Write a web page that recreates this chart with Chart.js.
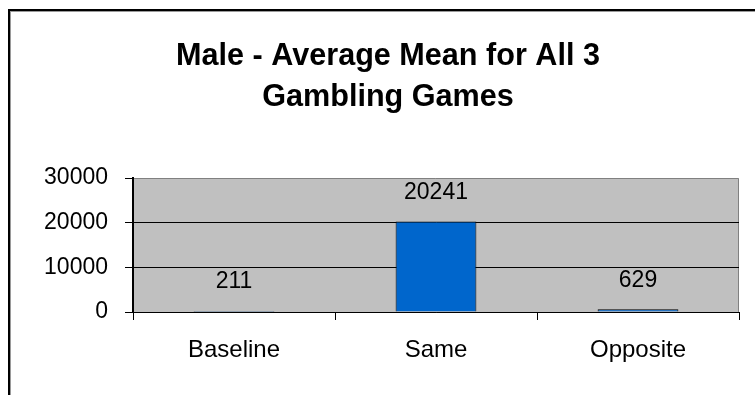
<!DOCTYPE html>
<html>
<head>
<meta charset="utf-8">
<script src="https://cdn.jsdelivr.net/npm/chart.js@4"></script>
<style>
    html, body { margin: 0; padding: 0; background: #fff; overflow: hidden; }
</style>
</head>
<body>
<canvas id="chart" width="755" height="395"></canvas>
<script>
// datos del grafico
const categorias = ['Baseline', 'Same', 'Opposite'];
const valores = [211, 20241, 629];
const titulo = ['Male - Average Mean for All 3', 'Gambling Games'];

const fuente = "'Liberation Sans', Arial, sans-serif";

// marco y fondo gris del area de trazado
const fondoPlot = {
    id: 'fondoPlot',
    beforeDraw(chart) {
        const ctx = chart.ctx;
        const a = chart.chartArea;
        ctx.save();
        ctx.fillStyle = '#ffffff';
        ctx.fillRect(0, 0, chart.width, chart.height);
        // marco exterior
        ctx.fillStyle = '#000000';
        ctx.fillRect(8, 9, 2, chart.height);
        ctx.fillRect(8, 9, chart.width, 2);
        ctx.fillStyle = '#9a9a9a';
        ctx.fillRect(10, 11, 1, chart.height);
        ctx.fillRect(10, 11, chart.width, 1);
        // area de trazado
        ctx.fillStyle = '#c0c0c0';
        ctx.fillRect(a.left, a.top, a.right - a.left, a.bottom - a.top);
        ctx.strokeStyle = '#808080';
        ctx.lineWidth = 1;
        ctx.beginPath();
        ctx.moveTo(a.left, a.top + 0.5);
        ctx.lineTo(a.right - 0.5, a.top + 0.5);
        ctx.lineTo(a.right - 0.5, a.bottom);
        ctx.stroke();
        ctx.restore();
    }
};

// etiquetas con el valor encima de cada barra
const etiquetasValor = {
    id: 'etiquetasValor',
    afterDatasetsDraw(chart) {
        const ctx = chart.ctx;
        const meta = chart.getDatasetMeta(0);
        ctx.save();
        ctx.font = '23px ' + fuente;
        ctx.fillStyle = '#000000';
        ctx.textAlign = 'center';
        ctx.textBaseline = 'middle';
        meta.data.forEach((barra, i) => {
            ctx.fillText(String(valores[i]), barra.x, barra.y - 29);
        });
        ctx.restore();
    }
};

new Chart(document.getElementById('chart'), {
    type: 'bar',
    data: {
        labels: categorias,
        datasets: [{
            data: valores,
            backgroundColor: '#0066cc',
            borderColor: '#000000',
            borderWidth: 1,
            barPercentage: 0.4,
            categoryPercentage: 1
        }]
    },
    options: {
        responsive: false,
        animation: false,
        layout: { padding: { left: 37, right: 16, top: 0, bottom: 0 } },
        plugins: {
            legend: { display: false },
            tooltip: { enabled: false },
            title: {
                display: true,
                text: titulo,
                color: '#000000',
                font: { family: fuente, size: 30.6, weight: 'bold', lineHeight: 41 / 30.6 },
                padding: { top: 36, bottom: 60 }
            }
        },
        scales: {
            x: {
                afterFit: (scale) => { scale.height = 83; },
                grid: {
                    display: true,
                    drawOnChartArea: false,
                    drawTicks: true,
                    tickLength: 8,
                    tickColor: '#000000',
                    color: '#000000'
                },
                border: { display: true, color: '#000000', width: 1 },
                ticks: {
                    color: '#000000',
                    padding: 16,
                    maxRotation: 0,
                    font: { family: fuente, size: 24 }
                }
            },
            y: {
                min: 0,
                max: 30000,
                afterFit: (scale) => { scale.width = 96; },
                grid: {
                    color: (c) => (c.tick && c.tick.value === 30000 ? 'rgba(0,0,0,0)' : '#000000'),
                    lineWidth: 1,
                    tickLength: 8,
                    tickColor: '#000000'
                },
                border: { display: true, color: '#000000', width: 2 },
                ticks: {
                    stepSize: 10000,
                    color: '#000000',
                    padding: 17,
                    font: { family: fuente, size: 23 },
                    callback: (v) => String(v)
                }
            }
        }
    },
    plugins: [fondoPlot, etiquetasValor]
});
</script>
</body>
</html>
